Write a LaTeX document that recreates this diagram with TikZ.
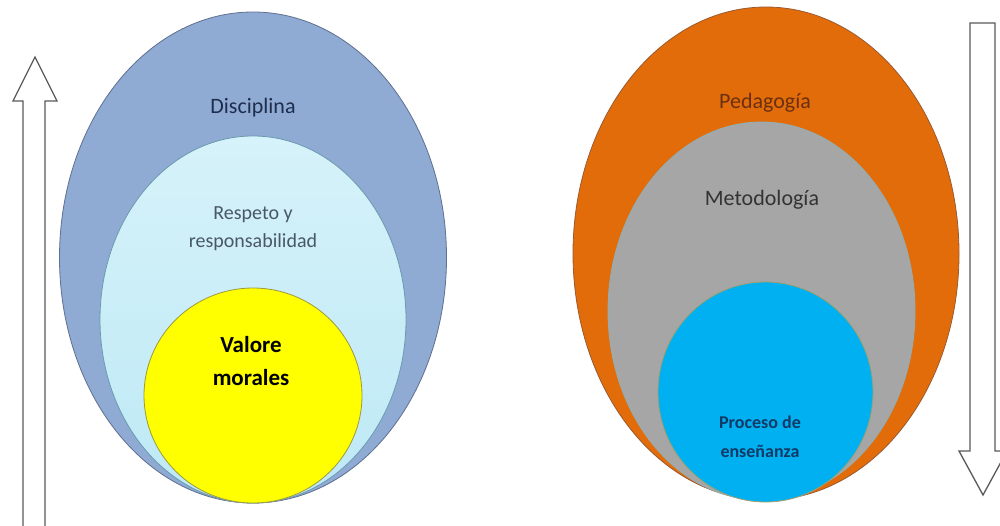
\documentclass[tikz,border=0pt]{standalone}
\usepackage{fontspec}
\setmainfont{Carlito}
\usetikzlibrary{shapes.geometric}
\definecolor{discblue}{HTML}{8FAAD3}
\definecolor{discedge}{HTML}{5F6F8F}
\definecolor{respblue}{HTML}{D6F2FA}
\definecolor{respblue2}{HTML}{BDE9F5}
\definecolor{respedge}{HTML}{6A9AB0}
\definecolor{valyellow}{HTML}{FFFF00}
\definecolor{valedge}{HTML}{9A9A40}
\definecolor{pedorange}{HTML}{E36C0A}
\definecolor{pededge}{HTML}{9A5A30}
\definecolor{metgray}{HTML}{A6A6A6}
\definecolor{metedge}{HTML}{8FB0B8}
\definecolor{procblue}{HTML}{00B0F0}
\definecolor{procedge}{HTML}{A0A070}
\definecolor{txtdisc}{HTML}{1F2D4D}
\definecolor{txtresp}{HTML}{4A5866}
\definecolor{txtped}{HTML}{6A3010}
\definecolor{txtmet}{HTML}{333333}
\definecolor{txtproc}{HTML}{123A66}
\definecolor{arrowedge}{HTML}{5A5A5A}
\begin{document}
\begin{tikzpicture}[x=1pt,y=-1pt,
  blob/.style={ellipse, inner sep=0pt, line width=0.8pt},
  lbl/.style={align=center, inner sep=0pt, font=\fontsize{21}{28}\selectfont},
  blockarrow/.style={draw=arrowedge, fill=white, line width=1.3pt, line join=miter}]
\useasboundingbox (0,0) rectangle (1000,525);
\fill[white] (0,0) rectangle (1000,525);
% left group
\node[blob, draw=discedge, fill=discblue, minimum width=387pt, minimum height=491pt] (disc) at (253,257.5) {};
\node[blob, draw=respedge, top color=respblue, bottom color=respblue2, minimum width=306pt, minimum height=367pt] (resp) at (253,319.5) {};
\node[blob, draw=valedge, fill=valyellow, minimum width=218pt, minimum height=215pt] (val) at (253,395.5) {};
\node[lbl, text=txtdisc, font=\fontsize{22}{28}\selectfont] (tdisc) at (253,108) {Disciplina};
\node[lbl, text=txtresp, font=\fontsize{20}{28}\selectfont] (tresp) at (253,229) {Respeto y\\responsabilidad};
\node[lbl, text=black, font=\fontsize{23}{33}\selectfont\bfseries] (tval) at (251,361) {Valore\\morales};
% right group
\node[blob, draw=pededge, fill=pedorange, minimum width=386pt, minimum height=493pt] (ped) at (766,253.5) {};
\node[blob, draw=metedge, fill=metgray, minimum width=307pt, minimum height=378pt] (met) at (761.5,311) {};
\node[blob, draw=procedge, fill=procblue, minimum width=215pt, minimum height=220pt] (proc) at (765.5,392) {};
\node[lbl, text=txtped, font=\fontsize{22}{28}\selectfont] (tped) at (765,103) {Pedagogía};
\node[lbl, text=txtmet, font=\fontsize{22}{28}\selectfont] (tmet) at (762,200) {Metodología};
\node[lbl, text=txtproc, font=\fontsize{18}{29}\selectfont\bfseries] (tproc) at (760,437) {Proceso de\\enseñanza};
% block arrows
\draw[blockarrow] (23,532) -- (23,101) -- (13,101) -- (35,57) -- (57,101) -- (45,101) -- (45,532);
\draw[blockarrow] (970,23) -- (995,23) -- (995,451) -- (1007,451) -- (983,495) -- (959,451) -- (970,451) -- cycle;
\end{tikzpicture}
\end{document}
